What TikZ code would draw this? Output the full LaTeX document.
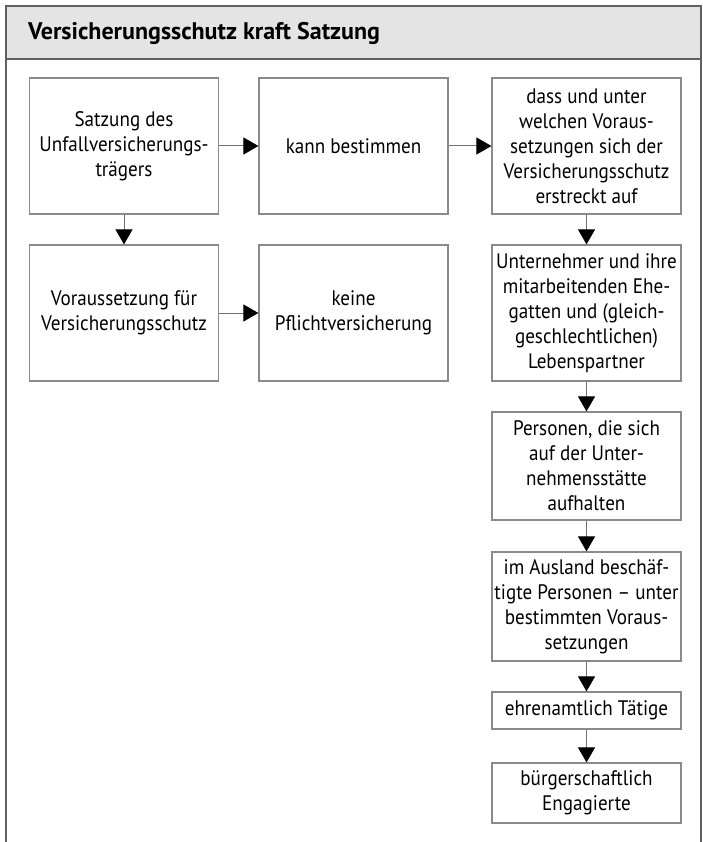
\documentclass[tikz,border=0pt]{standalone}
\usepackage{fontspec}
\setmainfont{PT Sans}
\newfontfamily\bodyfont{PT Sans}[FakeStretch=0.91]
\usetikzlibrary{arrows.meta}
\definecolor{boxline}{HTML}{8A8A8A}
\definecolor{frameline}{HTML}{606060}
\definecolor{hdr}{HTML}{E4E4E4}
\definecolor{connline}{HTML}{707070}
\begin{document}
\begin{tikzpicture}[x=1pt,y=-1pt,
  box/.style={draw=boxline, line width=1.2pt, align=center, inner sep=0pt,
    font=\bodyfont\fontsize{21}{25}\selectfont, minimum width=189pt},
  conn/.style={draw=connline, line width=1pt, -{Triangle[length=15pt,width=17pt,color=black]}},
  frm/.style={draw=frameline, line width=1.6pt}]
\useasboundingbox (0,0) rectangle (703,842);
\fill[hdr] (6,6) rectangle (701,59);
\draw[frm] (6,842) -- (6,6) -- (701,6) -- (701,842);
\draw[frm] (6,59) -- (701,59);
\node[anchor=base west, font=\fontsize{24}{28}\bfseries\selectfont, inner sep=0pt] (title) at (28,40) {Versicherungsschutz kraft Satzung};

\node[box, minimum height=136pt] (b1) at (124,146) {Satzung des\\Unfallversicherungs-\\trägers};
\node[box, minimum height=136pt] (b2) at (353.5,146) {kann bestimmen};
\node[box, minimum height=136pt] (b3) at (586.5,146) {dass und unter\\welchen Voraus-\\setzungen sich der\\Versicherungsschutz\\erstreckt auf};
\node[box, minimum height=136pt] (b4) at (124,313) {Voraussetzung für\\Versicherungsschutz};
\node[box, minimum height=136pt] (b5) at (353.5,313) {keine\\Pflichtversicherung};
\node[box, minimum height=136pt] (b6) at (586.5,313) {Unternehmer und ihre\\mitarbeitenden Ehe-\\gatten und (gleich-\\geschlechtlichen)\\Lebenspartner};
\node[box, minimum height=108pt] (b7) at (586.5,466) {Personen, die sich\\auf der Unter-\\nehmensstätte\\aufhalten};
\node[box, minimum height=109pt] (b8) at (586.5,606.5) {im Ausland beschäf-\\tigte Personen – unter\\bestimmten Voraus-\\setzungen};
\node[box, minimum height=37pt] (b9) at (586.5,710.5) {ehrenamtlich Tätige};
\node[box, minimum height=60pt] (b10) at (586.5,793) {bürgerschaftlich\\Engagierte};

\draw[conn] (b1) -- (b2);
\draw[conn] (b2) -- (b3);
\draw[conn] (b1) -- (b4);
\draw[conn] (b4) -- (b5);
\draw[conn] (b3) -- (b6);
\draw[conn] (b6) -- (b7);
\draw[conn] (b7) -- (b8);
\draw[conn] (b8) -- (b9);
\draw[conn] (b9) -- (b10);
\end{tikzpicture}
\end{document}
